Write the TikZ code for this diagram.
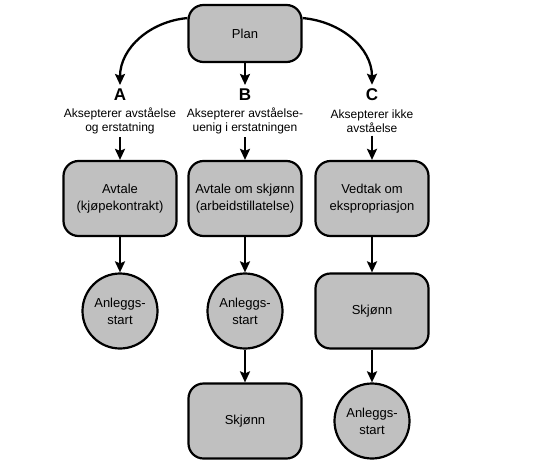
\documentclass[tikz,border=0pt]{standalone}
\usepackage{fontspec}
\setmainfont{Liberation Sans}
\usetikzlibrary{arrows.meta}
\definecolor{boxgray}{RGB}{192,192,192}
\tikzset{
  box/.style={draw, line width=2.2pt, rounded corners=15pt, fill=boxgray,
    minimum width=113pt, minimum height=75pt, align=center,
    font=\fontsize{13}{17}\selectfont},
  disc/.style={draw, circle, line width=2.2pt, fill=boxgray, minimum size=75pt,
    inner sep=0pt, align=center, font=\fontsize{13}{17}\selectfont},
  letter/.style={font=\fontsize{17}{17}\selectfont\bfseries, inner sep=4pt},
  desc/.style={align=center, font=\fontsize{12}{14}\selectfont, inner sep=3pt},
  arr/.style={-{Stealth[length=11pt,width=10pt,inset=2pt]}, line width=2.3pt}
}
\begin{document}
\begin{tikzpicture}[x=1pt, y=-1pt]
  \useasboundingbox (0,0) rectangle (552,464);
  % top
  \node[box, minimum height=57pt] (plan) at (245,33.5) {Plan};
  % the three choices
  \node[letter] (la) at (120,95) {A};
  \node[letter] (lb) at (245,95) {B};
  \node[letter] (lc) at (372,95) {C};
  \node[desc] (da) at (120,121) {Aksepterer avståelse\\og erstatning};
  \node[desc] (db) at (245,121) {Aksepterer avståelse-\\uenig i erstatningen};
  \node[desc] (dc) at (372,121) {Aksepterer ikke\\avståelse};
  \draw[arr] (plan.165) to[out=185, in=90] (la.north);
  \draw[arr] (plan) -- (lb);
  \draw[arr] (plan.15) to[out=-5, in=90] (lc.north);
  % first row
  \node[box] (avtale) at (120,198.5) {Avtale\\(kjøpekontrakt)};
  \node[box] (skjonnavtale) at (245,198.5) {Avtale om skjønn\\(arbeidstillatelse)};
  \node[box] (vedtak) at (372,198.5) {Vedtak om\\ekspropriasjon};
  \draw[arr] (da) -- (avtale);
  \draw[arr] (db) -- (skjonnavtale);
  \draw[arr] (dc) -- (vedtak);
  % second row
  \node[disc] (startA) at (120,311) {Anleggs-\\start};
  \node[disc] (startB) at (245,311) {Anleggs-\\start};
  \node[box] (skjonnC) at (372,311) {Skjønn};
  \draw[arr] (avtale) -- (startA);
  \draw[arr] (skjonnavtale) -- (startB);
  \draw[arr] (vedtak) -- (skjonnC);
  % third row
  \node[box] (skjonnB) at (245,421) {Skjønn};
  \node[disc] (startC) at (372,421) {Anleggs-\\start};
  \draw[arr] (startB) -- (skjonnB);
  \draw[arr] (skjonnC) -- (startC);
\end{tikzpicture}
\end{document}
